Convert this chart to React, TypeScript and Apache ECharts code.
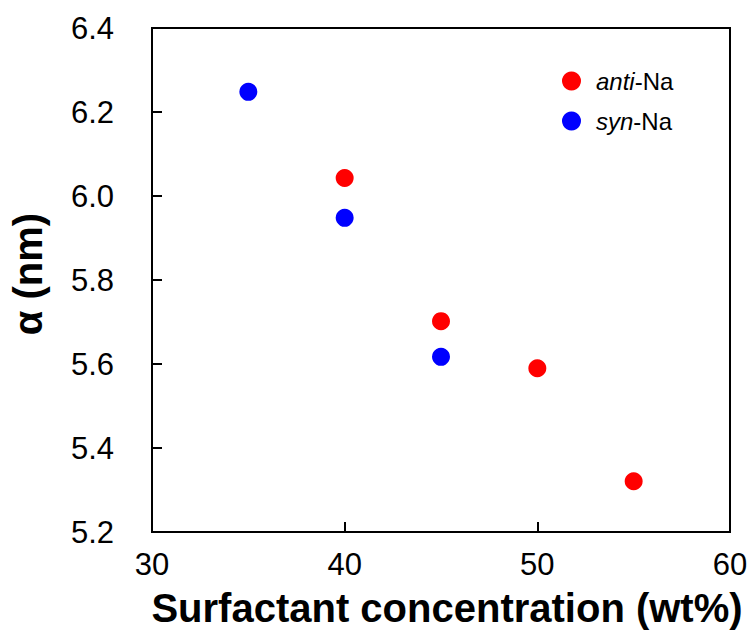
import React, { useEffect, useRef } from "react";
import * as echarts from "echarts";

const antiX = [40, 45, 50, 55];
const antiY = [6.043, 5.702, 5.590, 5.321];
const synX = [35, 40, 45];
const synY = [6.248, 5.948, 5.617];
const xTitle = "Surfactant concentration (wt%)";
const yTitle = "α (nm)";
const FONT = "'Liberation Sans', Arial, sans-serif";

export default function App() {
  const ref = useRef<HTMLDivElement>(null);
  useEffect(() => {
    document.body.style.margin = "0";
    document.body.style.overflow = "hidden";
    if (!ref.current) return;
    const chart = echarts.init(ref.current, undefined, { renderer: "svg" });
    chart.setOption({
      animation: false,
      backgroundColor: "#ffffff",
      textStyle: { fontFamily: FONT },
      grid: {
        left: 151,
        right: 21,
        top: 28,
        bottom: 101,
        show: true,
        borderColor: "#000",
        borderWidth: 2,
      },
      legend: {
        orient: "vertical",
        left: 557,
        top: 64,
        itemWidth: 19,
        itemHeight: 19,
        itemGap: 16,
        icon: "circle",
        data: ["anti-Na", "syn-Na"],
        formatter: (name: string) => {
          const [a, b] = name.split("-");
          return `{i|${a}}{n|-${b}}`;
        },
        textStyle: {
          fontFamily: FONT,
          fontSize: 24,
          color: "#000",
          padding: [0, 0, 0, 10],
          rich: {
            i: { fontStyle: "italic", fontSize: 24, fontFamily: FONT, color: "#000" },
            n: { fontSize: 24, fontFamily: FONT, color: "#000" },
          },
        },
      },
      xAxis: {
        type: "value",
        min: 30,
        max: 60,
        interval: 10,
        name: xTitle,
        nameLocation: "middle",
        nameGap: 56,
        nameTextStyle: {
          fontFamily: FONT,
          fontSize: 40,
          fontWeight: "bold",
          color: "#000",
          padding: [0, 0, 0, 12],
        },
        axisLine: { show: true, lineStyle: { color: "#000", width: 2 } },
        axisTick: { show: true, inside: true, length: 10, lineStyle: { color: "#000", width: 2 } },
        axisLabel: { fontFamily: FONT, fontSize: 31, color: "#000", margin: 17 },
        splitLine: { show: false },
      },
      yAxis: {
        type: "value",
        min: 5.2,
        max: 6.4,
        interval: 0.2,
        name: yTitle,
        nameLocation: "middle",
        nameGap: 104,
        nameRotate: 90,
        nameTextStyle: {
          fontFamily: FONT,
          fontSize: 40,
          fontWeight: "bold",
          color: "#000",
          padding: [0, 0, 0, 12],
        },
        axisLine: { show: true, lineStyle: { color: "#000", width: 2 } },
        axisTick: { show: true, inside: true, length: 10, lineStyle: { color: "#000", width: 2 } },
        axisLabel: {
          fontFamily: FONT,
          fontSize: 31,
          color: "#000",
          margin: 38,
          formatter: (v: number) => v.toFixed(1),
        },
        splitLine: { show: false },
      },
      series: [
        {
          name: "anti-Na",
          type: "scatter",
          symbol: "circle",
          symbolSize: 18,
          itemStyle: { color: "#ff0000", opacity: 1 },
          data: antiX.map((x, i) => [x, antiY[i]]),
        },
        {
          name: "syn-Na",
          type: "scatter",
          symbol: "circle",
          symbolSize: 18,
          itemStyle: { color: "#0000ff", opacity: 1 },
          data: synX.map((x, i) => [x, synY[i]]),
        },
      ],
    });
    return () => chart.dispose();
  }, []);
  return <div ref={ref} style={{ width: 751, height: 633 }} />;
}
